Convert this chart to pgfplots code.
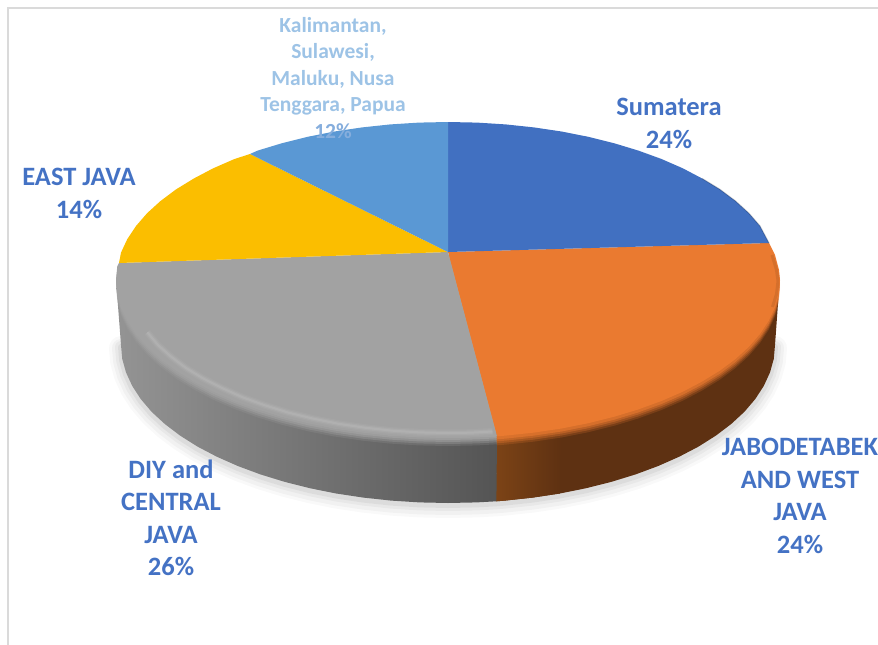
\documentclass[border=0pt]{standalone}
\usepackage{pgfplots}
\usepackage{pgfplotstable}
\usepackage{fontspec}
\setmainfont{Carlito}
\pgfplotsset{compat=1.18}
\definecolor{cBlue}{HTML}{4170C1}
\definecolor{cOrange}{HTML}{EA7A30}
\definecolor{cGray}{HTML}{A2A2A2}
\definecolor{cYellow}{HTML}{FBBE00}
\definecolor{cSky}{HTML}{5A98D4}
\definecolor{cLabel}{HTML}{4472C4}
\definecolor{cLight}{HTML}{9DC3E6}
\definecolor{cFrame}{HTML}{DADADA}
\definecolor{cBrown}{HTML}{5E3112}
\definecolor{cBrownL}{HTML}{7C4316}
\pgfplotstableread{
x y
448 252
497 436.3
477 437.4
448 438
419 437.4
390.4 435.6
362.1 432.6
334.5 428.5
307.7 423.2
282 416.8
257.6 409.4
234.5 401
213.2 391.7
194 381.6
176 370.6
160.5 359
147.1 346.8
136 334
127.3 320.9
121 307.4
117.3 293.8
116 280
117.3 266.2
119 263
}\faceGray
\pgfplotstableread{
x y
448 252
769 243
775 255
779 270
780 280
778.7 293.8
775 307.4
768.7 320.9
760 334
748.9 346.8
735.5 359
720 370.6
702 381.6
682.8 391.7
661.5 401
638.4 409.4
614 416.8
588.3 423.2
561.5 428.5
533.9 432.6
505.6 435.6
497 436.3
}\faceOrange
\pgfplotstableread{
x y
121 345
122.2 358.8
126 372.4
132.2 385.9
140.7 399
151.6 411.8
164.8 424
180.1 435.6
197.5 446.6
216.8 456.7
237.8 466
260.4 474.4
284.5 481.8
309.8 488.2
336.2 493.5
363.4 497.6
391.2 500.6
419.5 502.4
448 503
476.5 502.4
496.4 501.3
504.8 500.6
532.6 497.6
559.8 493.5
586.2 488.2
611.5 481.8
635.6 474.4
658.2 466
679.2 456.7
698.5 446.6
715.9 435.6
731.2 424
744.4 411.8
755.3 399
763.8 385.9
770 372.4
773.8 358.8
775 345
}\rimBottom
\pgfplotstableread{
x y
147.3 332.3
158 345
170.9 356.5
186 368
202.9 378.3
222 388
242.3 397.2
264 405
288 412.5
313 418.6
338.6 423.8
365 427.7
392.4 430.7
420 432.4
448 433
470 432.7
492.5 431.5
}\ridgeGray
\pgfplotstableread{
x y
702 178.4
720 189.4
735.5 201
748.9 213.2
760 226
769 243
}\rimBlue
\begin{document}
\begin{tikzpicture}
\begin{axis}[name=ax,
  scale only axis, width=878pt, height=645pt,
  xmin=0, xmax=878, ymin=0, ymax=645, y dir=reverse,
  hide axis, clip=true]
% frame
\addplot[cFrame, line width=1.6pt] coordinates {(878,8) (8,8) (8,645)};
% soft shadow under the pie
\addplot[black, opacity=.025, line width=24pt, line join=round, line cap=round, yshift=-3pt] table[x=x,y=y] {\rimBottom};
\addplot[black, opacity=.03, line width=18pt, line join=round, line cap=round, yshift=-3pt] table[x=x,y=y] {\rimBottom};
\addplot[black, opacity=.035, line width=12pt, line join=round, line cap=round, yshift=-2pt] table[x=x,y=y] {\rimBottom};
\addplot[black, opacity=.05, line width=6pt, line join=round, line cap=round, yshift=-2pt] table[x=x,y=y] {\rimBottom};
% side walls
\addplot[fill=cBrown, draw=none] coordinates {
 (497,430) (505.6,430) (561.5,425) (614,410) (661.5,395) (702,375) (735.5,355) (760,330) (775,300) (780,280)
 (778.7,293.8) (775,345) (773.8,358.8) (770,372.4) (763.8,385.9) (755.3,399) (744.4,411.8) (731.2,424) (715.9,435.6) (698.5,446.6) (679.2,456.7) (658.2,466) (635.6,474.4) (611.5,481.8) (586.2,488.2) (559.8,493.5) (532.6,497.6) (504.8,500.6) (496.4,501.3)} -- cycle;
\addplot[draw=none, left color=cBrownL, right color=cBrown] coordinates {
 (496,430) (561.5,425) (559.8,493.5) (532.6,497.6) (504.8,500.6) (496.4,501.3)} -- cycle;
\addplot[draw=none, left color=black!42, middle color=black!52, right color=black!67] coordinates {
 (116,280) (117.3,293.8) (121,307.4) (136,334) (160.5,359) (194,381.6) (234.5,401) (282,416.8) (334.5,428.5) (390.4,435.6) (448,438) (497,436.3)
 (496.4,501.3) (476.5,502.4) (448,503) (419.5,502.4) (391.2,500.6) (363.4,497.6) (336.2,493.5) (309.8,488.2) (284.5,481.8) (260.4,474.4) (237.8,466) (216.8,456.7) (197.5,446.6) (180.1,435.6) (164.8,424) (151.6,411.8) (140.7,399) (132.2,385.9) (126,372.4) (122.2,358.8) (121,345)} -- cycle;
% top face of orange, with soft copies shifted down as its rim
\addplot[fill=cOrange, draw=none, opacity=.2, yshift=-9pt] table[x=x,y=y] {\faceOrange} -- cycle;
\addplot[fill=cOrange, draw=none, opacity=.3, yshift=-7pt] table[x=x,y=y] {\faceOrange} -- cycle;
\addplot[fill=cOrange, draw=none, opacity=.4, yshift=-5pt] table[x=x,y=y] {\faceOrange} -- cycle;
\addplot[fill=cOrange, draw=none, opacity=.6, yshift=-3pt] table[x=x,y=y] {\faceOrange} -- cycle;
\addplot[fill=cOrange, draw=none] table[x=x,y=y] {\faceOrange} -- cycle;
% top face of gray, likewise
\addplot[fill=cGray, draw=none, opacity=.2, yshift=-8pt] table[x=x,y=y] {\faceGray} -- cycle;
\addplot[fill=cGray, draw=none, opacity=.35, yshift=-6pt] table[x=x,y=y] {\faceGray} -- cycle;
\addplot[fill=cGray, draw=none, opacity=.5, yshift=-4pt] table[x=x,y=y] {\faceGray} -- cycle;
\addplot[fill=cGray, draw=none, opacity=.7, yshift=-2pt] table[x=x,y=y] {\faceGray} -- cycle;
\addplot[fill=cGray, draw=none] table[x=x,y=y] {\faceGray} -- cycle;
% other slices
\addplot[fill=cBlue, draw=none] coordinates {
 (448,252) (448,122) (477,122.6) (505.6,124.4) (533.9,127.4) (561.5,131.5) (588.3,136.8) (614,143.2) (638.4,150.6) (661.5,159) (682.8,168.3) (702,178.4) (720,189.4) (735.5,201) (748.9,213.2) (760,226) (769,243)} -- cycle;
\addplot[fill=cYellow, draw=none] coordinates {
 (448,252) (119,263) (121,252.6) (127.3,239.1) (136,226) (147.1,213.2) (160.5,201) (176,189.4) (194,178.4) (213.2,168.3) (234.5,159) (250,154)} -- cycle;
\addplot[fill=cSky, draw=none] coordinates {
 (448,252) (250,154) (257.6,150.6) (282,143.2) (307.7,136.8) (334.5,131.5) (362.1,127.4) (390.4,124.4) (419,122.6) (448,122)} -- cycle;
% dark inner edge on the right of orange and blue
\addplot[cBrown, opacity=.15, line width=3pt, line join=round] coordinates {(772,255) (776.5,270) (778,281) (776.5,294) (772.5,307)};
\addplot[black, opacity=.18, line width=1.2pt] table[x=x,y=y] {\rimBlue};
% highlight ridge on the gray slice
\addplot[white, opacity=.04, line width=7pt, line join=round] table[x=x,y=y] {\ridgeGray};
\addplot[white, opacity=.06, line width=4.5pt, line join=round] table[x=x,y=y] {\ridgeGray};
\addplot[white, opacity=.08, line width=2pt, line join=round] table[x=x,y=y] {\ridgeGray};
% labels
\node[font=\bfseries\fontsize{26.5}{32.5}\selectfont, text=cLabel, align=center] at (axis cs:669,123.5) {Sumatera\\24\%};
\node[overlay, font=\bfseries\fontsize{26.5}{32.5}\selectfont, text=cLabel, align=center] at (axis cs:800,496) {JABODETABEK\\AND WEST\\JAVA\\24\%};
\node[font=\bfseries\fontsize{26.5}{32.5}\selectfont, text=cLabel, align=center] at (axis cs:171,518) {DIY and\\CENTRAL\\JAVA\\26\%};
\node[font=\bfseries\fontsize{26.5}{32.5}\selectfont, text=cLabel, align=center] at (axis cs:79,193.5) {EAST JAVA\\14\%};
\node[font=\bfseries\fontsize{21.5}{26.5}\selectfont, text=cLight, align=center] at (axis cs:333,78) {Kalimantan,\\Sulawesi,\\Maluku, Nusa\\Tenggara, Papua\\{\color{cLight!75!cBlue}12\%}};
\end{axis}
\pgfresetboundingbox
\path (ax.south west) rectangle (ax.north east);
\end{tikzpicture}
\end{document}
